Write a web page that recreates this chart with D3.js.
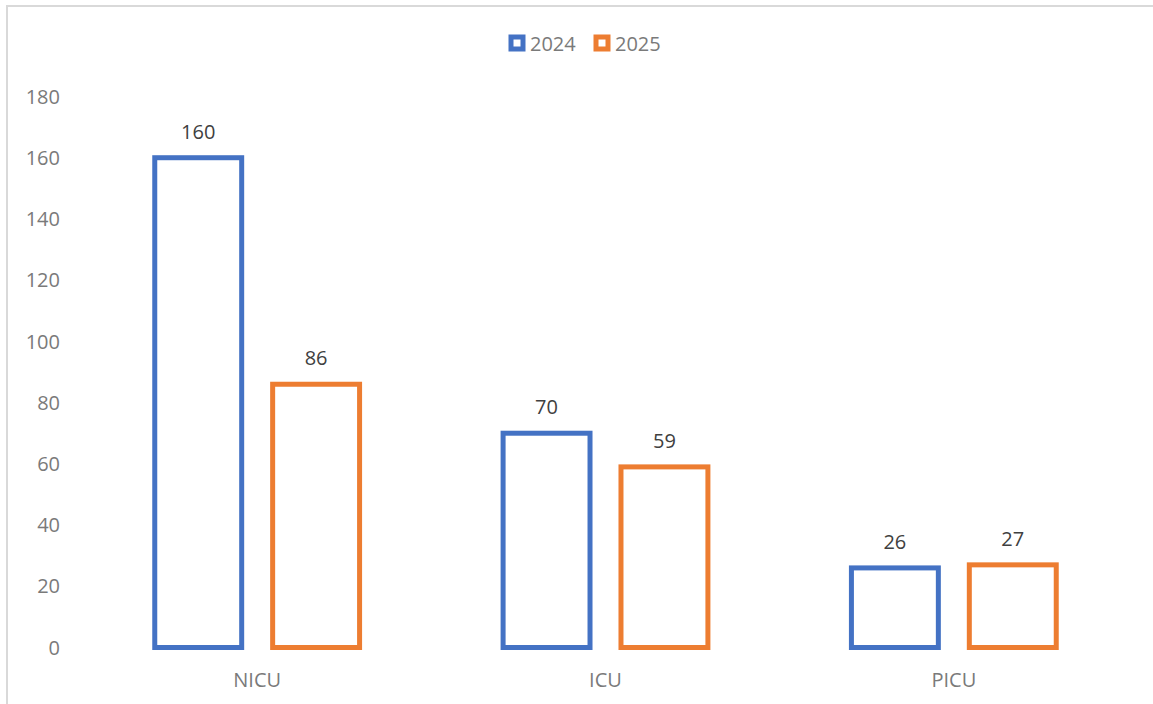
<!DOCTYPE html>
<html>
<head>
<meta charset="utf-8">
<script src="https://cdn.jsdelivr.net/npm/d3@7"></script>
<style>
  html, body { margin: 0; padding: 0; background: #fff; }
  svg text { font-family: "Open Sans", "Liberation Sans", sans-serif; }
</style>
</head>
<body>
<svg id="chart" width="1153" height="704"></svg>
<script>
// --- Data ---
const categories = ["NICU", "ICU", "PICU"];
const seriesNames = ["2024", "2025"];
const values2024 = [160, 70, 26];
const values2025 = [86, 59, 27];
const yTicks = [0, 20, 40, 60, 80, 100, 120, 140, 160, 180];
const colors = ["#4472C4", "#ED7D31"];

const seriesValues = [values2024, values2025];
const rows = categories.map((c, i) => ({
  category: c,
  bars: seriesNames.map((s, j) => ({ series: s, value: seriesValues[j][i], color: colors[j] }))
}));

const svg = d3.select("#chart");

// chart area border (Excel style)
svg.append("rect")
  .attr("x", 7).attr("y", 6)
  .attr("width", 1170).attr("height", 720)
  .attr("fill", "none")
  .attr("stroke", "#d9d9d9")
  .attr("stroke-width", 2);

// --- Scales ---
const x0 = d3.scaleBand()
  .domain(categories)
  .range([83, 1128])
  .paddingInner(0.412)
  .paddingOuter(0.206);

const x1 = d3.scaleBand()
  .domain(seriesNames)
  .range([0, x0.bandwidth()])
  .paddingInner(0.2627);

const y = d3.scaleLinear()
  .domain([0, 180])
  .range([647.5, 96.5]);

// --- Y axis labels (no line) ---
svg.append("g")
  .selectAll("text")
  .data(yTicks)
  .enter()
  .append("text")
  .attr("x", 60)
  .attr("y", d => y(d))
  .attr("dy", "0.36em")
  .attr("text-anchor", "end")
  .style("font-size", "20px")
  .attr("fill", "#7a7a7a")
  .text(d => d);

// --- Category labels ---
svg.append("g")
  .selectAll("text")
  .data(categories)
  .enter()
  .append("text")
  .attr("x", d => x0(d) + x0.bandwidth() / 2)
  .attr("y", 680)
  .attr("dy", "0.36em")
  .attr("text-anchor", "middle")
  .style("font-size", "20px")
  .attr("fill", "#7a7a7a")
  .text(d => d);

// --- Bars (outlined) ---
const groups = svg.selectAll(".group")
  .data(rows)
  .enter()
  .append("g")
  .attr("class", "group")
  .attr("transform", d => `translate(${x0(d.category)},0)`);

groups.selectAll("rect")
  .data(d => d.bars)
  .enter()
  .append("rect")
  .attr("x", d => x1(d.series))
  .attr("y", d => y(d.value))
  .attr("width", x1.bandwidth())
  .attr("height", d => y(0) - y(d.value))
  .attr("fill", "#fff")
  .attr("stroke", d => d.color)
  .attr("stroke-width", 5);

groups.selectAll(".label")
  .data(d => d.bars)
  .enter()
  .append("text")
  .attr("class", "label")
  .attr("x", d => x1(d.series) + x1.bandwidth() / 2)
  .attr("y", d => y(d.value) - 26)
  .attr("dy", "0.36em")
  .attr("text-anchor", "middle")
  .style("font-size", "20px")
  .attr("fill", "#404040")
  .text(d => d.value);

// --- Legend ---
const legend = svg.append("g");
const legendX = [508, 593];
seriesNames.forEach((s, i) => {
  legend.append("rect")
    .attr("x", legendX[i] + 3)
    .attr("y", 37)
    .attr("width", 12)
    .attr("height", 12)
    .attr("fill", "#fff")
    .attr("stroke", colors[i])
    .attr("stroke-width", 5);
  legend.append("text")
    .attr("x", legendX[i] + 22)
    .attr("y", 44)
    .attr("dy", "0.36em")
    .style("font-size", "20px")
    .attr("fill", "#7a7a7a")
    .text(s);
});
</script>
</body>
</html>
